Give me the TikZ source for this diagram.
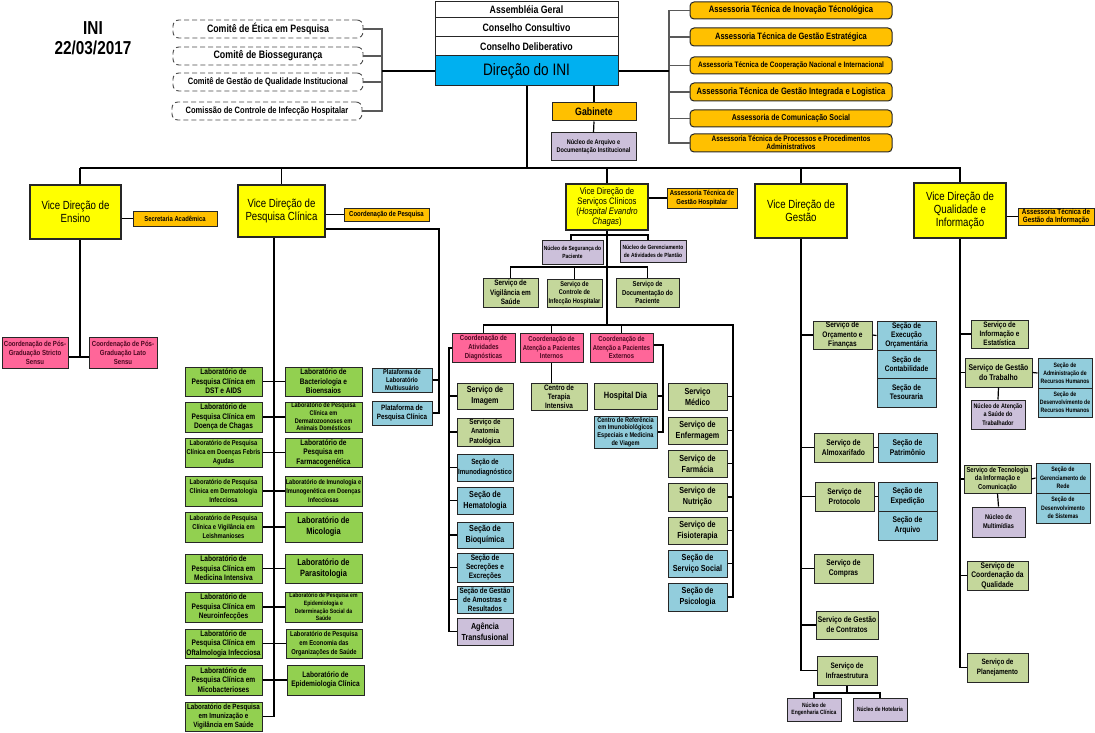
\documentclass[tikz,border=0pt]{standalone}
\usepackage{fontspec}
\setmainfont{Liberation Sans}[FakeStretch=0.82]
\definecolor{cyel}{HTML}{FFFF00}
\definecolor{corg}{HTML}{FFC000}
\definecolor{cblu}{HTML}{00B0F0}
\definecolor{cgrn}{HTML}{92D050}
\definecolor{coli}{HTML}{C4D79B}
\definecolor{clbl}{HTML}{92CDDC}
\definecolor{clav}{HTML}{CCC0DA}
\definecolor{cpnk}{HTML}{FF6699}
\definecolor{cptx}{HTML}{4A0820}
\definecolor{cbrd}{HTML}{262626}
\newcommand\Bx[7]{\node[bx,#6,minimum width={(#4)-(#2)},minimum height={(#5)-(#3)}] (#1) at ({((#2)+(#4))/2},{((#3)+(#5))/2}) {#7};}
\newcommand\FSz[2]{\pgfmathsetmacro\fszA{#1*1.07}\pgfmathsetmacro\fszB{#2*1.07}\fontsize{\fszA}{\fszB}\selectfont}
\tikzset{
  bx/.style={draw=cbrd,line width=1pt,inner sep=0.5pt,align=center},
  fs/.style 2 args={font=\bfseries\FSz{#1}{#2}},
  fr/.style 2 args={font=\FSz{#1}{#2}},
  vd/.style={fill=cyel,line width=1.6pt,draw=cbrd},
  dsh/.style={draw=black!70,dashed,dash pattern=on 5pt off 3pt,rounded corners=6pt,line width=0.9pt},
  ass/.style={fill=corg,rounded corners=4pt,line width=1pt},
  pk/.style={fill=cpnk,text=cptx},
  ln/.style={line width=1.2pt,black},
  bus/.style={line width=1.8pt,black},
  brk/.style={line width=1.2pt,black!65}
}
\begin{document}
\begin{tikzpicture}[x=1pt,y=-1pt]
\fill[white] (0,0) rectangle (1095,733);
\useasboundingbox (0,0) rectangle (1095,733);
% title
\node[fs={17.5}{19},align=center] (title) at (93,38) {INI\\22/03/2017};
% committees
\Bx{ce}{173}{20}{363}{38}{dsh,fs={10}{10}}{Comitê de Ética em Pesquisa}
\Bx{cb}{173}{47}{363}{65}{dsh,fs={10.1}{10}}{Comitê de Biossegurança}
\Bx{cq}{173}{73}{363}{91}{dsh,fs={8.6}{9}}{Comitê de Gestão de Qualidade Institucional}
\Bx{cc}{172}{102}{362}{120}{dsh,fs={8.6}{9}}{Comissão de Controle de Infecção Hospitalar}
% top boxes
\Bx{ag}{435}{2}{618}{18}{fill=white,fs={10}{11}}{Assembléia Geral}
\Bx{cco}{435}{18}{618}{37}{fill=white,fs={10}{11}}{Conselho Consultivo}
\Bx{cde}{435}{37}{618}{56}{fill=white,fs={10}{11}}{Conselho Deliberativo}
\Bx{dir}{435}{56}{618}{86}{fill=cblu,fr={15.5}{17}}{Direção do INI}
\Bx{gab}{552}{103}{636}{121}{fill=corg,fs={10}{11}}{Gabinete}
\Bx{nad}{551}{133}{636}{161}{fill=clav,fs={6.3}{7.8}}{Núcleo de Arquivo e\\Documentação Institucional}
% assessorias
\Bx{a1}{690}{2}{892}{19}{ass,fs={8.7}{9}}{Assessoria Técnica de Inovação Técnológica}
\Bx{a2}{690}{28}{892}{46}{ass,fs={8.6}{9}}{Assessoria Técnica de Gestão Estratégica}
\Bx{a3}{690}{57}{892}{74}{ass,fs={7.4}{8}}{Assessoria Técnica de Cooperação Nacional e Internacional}
\Bx{a4}{690}{83}{892}{101}{ass,fs={8.7}{9}}{Assessoria Técnica de Gestão Integrada e Logistica}
\Bx{a5}{690}{110}{892}{127}{ass,fs={8}{9}}{Assessoria de Comunicação Social}
\Bx{a6}{690}{134}{892}{152}{ass,fs={7.4}{7.6}}{Assessoria Técnica de Processos e Procedimentos\\Administrativos}
% brackets
\coordinate (brl) at (382,71);
\coordinate (brr) at (669,71);
\draw[brk] (ce.east) -- (ce.east -| brl) -- (cc.east -| brl) -- (cc.east);
\draw[brk] (cb.east) -- (cb.east -| brl);
\draw[brk] (cq.east) -- (cq.east -| brl);
\draw[ln] (brl) -- (dir.west);
\draw[brk] (a1.west) -- (a1.west -| brr) -- (a6.west -| brr) -- (a6.west);
\foreach \n in {a2,a3,a4,a5} \draw[brk] (\n.west) -- (\n.west -| brr);
\draw[ln] (dir.east) -- (brr);
\draw[ln] (gab.north) -- (gab.north |- dir.south);
\draw[ln] (gab.south) -- (nad.north);
% bus
\coordinate (bus) at (527,168);
\coordinate (bL) at (80,168);
\coordinate (bR) at (961,168);
\draw[bus] (bus |- dir.south) -- (bus);
\draw[bus] (bL) -- (bR);
% ===== Ensino
\Bx{vde}{30}{185}{121}{239}{vd,fr={11}{12.5}}{Vice Direção de\\Ensino}
\Bx{sa}{133}{211}{217}{226}{fill=corg,fs={6.7}{7}}{Secretaria Acadêmica}
\Bx{pg1}{2}{337}{68}{368}{pk,fs={6.9}{8.4}}{Coordenação de Pós-\\Graduação Stricto\\Sensu}
\Bx{pg2}{89}{337}{157}{368}{pk,fs={6.9}{8.4}}{Coordenação de Pós-\\Graduação Lato\\Sensu}
\coordinate (ej) at (80,357);
\draw[bus] (bL) -- (bL |- vde.north);
\draw[ln] (vde.east |- sa.west) -- (sa.west);
\draw[ln] (bL |- vde.south) -- (ej);
\draw[ln] (pg1.east |- ej) -- (pg2.west |- ej);
% ===== Pesquisa Clinica
\Bx{vdp}{238}{185}{325}{237}{vd,fr={11}{12.5}}{Vice Direção de\\Pesquisa Clínica}
\Bx{cp}{344}{208}{429}{221}{fill=corg,fs={6.8}{7}}{Coordenação de Pesquisa}
\Bx{pm}{372}{368}{432}{392}{fill=clbl,fs={6.5}{7.4}}{Plataforma de\\Laboratório\\Multiusuário}
\Bx{pc}{372}{401}{432}{425}{fill=clbl,fs={7.2}{8.5}}{Plataforma de\\Pesquisa Clínica}
\draw[bus] (vdp.north |- bL) -- (vdp.north);
\draw[ln] (vdp.east |- cp.west) -- (cp.west);
\coordinate (pl) at (439,229);
\draw[ln] (vdp.east |- pl) -- (pl) -- (pl |- pc.east) -- (pc.east);
\draw[ln] (pm.east) -- (pm.east -| pl);
\tikzset{lab/.style={fill=cgrn,fs={7.5}{8.9}},labs/.style={fill=cgrn,fs={6.6}{8.4}},labb/.style={fill=cgrn,fs={8.5}{10.5}}}
\Bx{l1}{185}{367}{262}{396}{lab}{Laboratório de\\Pesquisa Clínica em\\DST e AIDS}
\Bx{r1}{285}{367}{362}{396}{lab}{Laboratório de\\Bacteriologia e\\Bioensaios}
\Bx{l2}{185}{402}{262}{432}{lab}{Laboratório de\\Pesquisa Clínica em\\Doença de Chagas}
\Bx{r2}{285}{402}{362}{432}{fill=cgrn,fs={6.3}{7.2}}{Laboratório de Pesquisa\\Clínica em\\Dermatozoonoses em\\Animais Domésticos}
\Bx{l3}{185}{438}{262}{467}{labs}{Laboratório de Pesquisa\\Clínica em Doenças Febris\\Agudas}
\Bx{r3}{285}{438}{362}{467}{lab}{Laboratório de\\Pesquisa em\\Farmacogenética}
\Bx{l4}{185}{476}{262}{506}{labs}{Laboratório de Pesquisa\\Clínica em Dermatologia\\Infecciosa}
\Bx{r4}{285}{476}{362}{506}{fill=cgrn,fs={6.4}{8.4}}{Laboratório de Imunologia e\\Imunogenética em Doenças\\Infecciosas}
\Bx{l5}{185}{512}{262}{542}{labs}{Laboratório de Pesquisa\\Clínica e Vigilância em\\Leishmanioses}
\Bx{r5}{285}{512}{362}{542}{labb}{Laboratório de\\Micologia}
\Bx{l6}{185}{554}{262}{583}{lab}{Laboratório de\\Pesquisa Clínica em\\Medicina Intensiva}
\Bx{r6}{285}{554}{362}{583}{labb}{Laboratório de\\Parasitologia}
\Bx{l7}{185}{592}{262}{622}{lab}{Laboratório de\\Pesquisa Clínica em\\Neuroinfecções}
\Bx{r7}{285}{592}{362}{622}{fill=cgrn,fs={5.8}{7.1}}{Laboratório de Pesquisa em\\Epidemiologia e\\Determinação Social da\\Saúde}
\Bx{l8}{185}{629}{262}{658}{lab}{Laboratório de\\Pesquisa Clínica em\\Oftalmologia Infecciosa}
\Bx{r8}{286}{629}{362}{658}{labs}{Laboratório de Pesquisa\\em Economia das\\Organizações de Saúde}
\Bx{l9}{185}{665}{262}{695}{lab}{Laboratório de\\Pesquisa Clínica em\\Micobacterioses}
\Bx{r9}{287}{665}{364}{695}{lab}{Laboratório de\\Epidemiologia Clínica}
\Bx{l10}{185}{702}{262}{731}{fill=cgrn,fs={7.1}{8.4}}{Laboratório de Pesquisa\\em Imunização e\\Vigilância em Saúde}
\coordinate (pv) at (274,237);
\draw[ln] (pv |- vdp.south) -- (pv |- l10.east) -- (l10.east);
\foreach \i in {1,...,9} \draw[ln] (l\i.east) -- (r\i.west);
% ===== Servicos Clinicos
\Bx{vds}{566}{184}{648}{230}{vd,fr={8.8}{9.3}}{Vice Direção de\\Serviços Clínicos\\(\textit{Hospital Evandro}\\\textit{Chagas})}
\Bx{aph}{667}{188}{737}{208}{fill=corg,fs={6.8}{7.8}}{Assessoria Técnica de\\Gestão Hospitalar}
\draw[bus] (vds.north |- bL) -- (vds.north);
\draw[ln] (vds.east |- aph.west) -- (aph.west);
\Bx{ns}{542}{240}{603}{264}{fill=clav,fs={5.6}{7.2}}{Núcleo de Segurança do\\Paciente}
\Bx{ng}{620}{240}{686}{262}{fill=clav,fs={5.6}{7.2}}{Núcleo de Gerenciamento\\de Atividades de Plantão}
\coordinate (nb1) at (571,235);
\coordinate (nb2) at (648,235);
\draw[ln] (nb1 |- ns.north) -- (nb1) -- (nb2) -- (nb2 |- ng.north);
\Bx{sv1}{483}{278}{538}{307}{fill=coli,fs={7.3}{8.9}}{Serviço de\\Vigilância em\\Saúde}
\Bx{sv2}{547}{279}{602}{307}{fill=coli,fs={6.4}{7.8}}{Serviço de\\Controle de\\Infecção Hospitalar}
\Bx{sv3}{616}{278}{679}{307}{fill=coli,fs={6.7}{8}}{Serviço de\\Documentação do\\Paciente}
\coordinate (sb) at (607,267);
\draw[ln] (sv1.north) -- (sv1.north |- sb) -- (sv3.north |- sb) -- (sv3.north);
\draw[ln] (sv2.north) -- (sv2.north |- sb);
\Bx{c1}{452}{333}{515}{362}{pk,fs={6.85}{8.2}}{Coordenação de\\Atividades\\Diagnósticas}
\Bx{c2}{520}{333}{583}{362}{pk,fs={6.7}{8.2}}{Coordenação de\\Atenção a Pacientes\\Internos}
\Bx{c3}{590}{333}{653}{362}{pk,fs={6.7}{8.2}}{Coordenação de\\Atenção a Pacientes\\Externos}
\coordinate (cbus) at (607,325);
\coordinate (rv) at (733,325);
\draw[ln] (vds.south) -- (vds.south |- cbus);
% column 1
\Bx{simg}{457}{383}{513}{409}{fill=coli,fs={8.2}{10.5}}{Serviço de\\Imagem}
\Bx{sanp}{457}{418}{513}{446}{fill=coli,fs={7}{8.6}}{Serviço de\\Anatomia\\Patológica}
\Bx{simu}{457}{454}{513}{481}{fill=clbl,fs={7.1}{8.6}}{Seção de\\Imunodiagnóstico}
\Bx{shem}{457}{487}{513}{514}{fill=clbl,fs={8.2}{10.5}}{Seção de\\Hematologia}
\Bx{sbio}{457}{522}{513}{548}{fill=clbl,fs={8.2}{10.5}}{Seção de\\Bioquímica}
\Bx{ssec}{457}{553}{513}{582}{fill=clbl,fs={7.4}{8.4}}{Seção de\\Secreções e\\Excreções}
\Bx{sgam}{457}{586}{513}{613}{fill=clbl,fs={7.2}{8.2}}{Seção de Gestão\\de Amostras e\\Resultados}
\Bx{agt}{457}{618}{513}{645}{fill=clav,fs={8.2}{10}}{Agência\\Transfusional}
\coordinate (dv) at (449,348);
\draw[ln] (c1.west |- dv) -- (dv) -- (dv |- agt.west) -- (agt.west);
\foreach \n in {simg,sanp,simu,shem,sbio,ssec,sgam} \draw[ln] (\n.west) -- (\n.west -| dv);
% column 2
\Bx{cti}{531}{383}{587}{410}{fill=coli,fs={7.3}{8.3}}{Centro de\\Terapia\\Intensiva}
\draw[ln] (c2.south) -- (c2.south |- cti.north);
% column 3
\Bx{hd}{594}{383}{657}{409}{fill=coli,fs={8.5}{10}}{Hospital Dia}
\Bx{cre}{594}{416}{657}{448}{fill=clbl,fs={6.4}{7.2}}{Centro de Referência\\em Imunobiológicos\\Especiais e Medicina\\de Viagem}
\coordinate (ev) at (663,345);
\draw[ln] (c3.east |- ev) -- (ev) -- (ev |- cre.east) -- (cre.east);
\draw[ln] (hd.east) -- (hd.east -| ev);
% column 4
\Bx{smed}{668}{383}{727}{410}{fill=coli,fs={8.2}{10.5}}{Serviço\\Médico}
\Bx{senf}{668}{417}{727}{444}{fill=coli,fs={8.2}{10.5}}{Serviço de\\Enfermagem}
\Bx{sfar}{668}{450}{727}{477}{fill=coli,fs={8.2}{10.5}}{Serviço de\\Farmácia}
\Bx{snut}{668}{483}{727}{511}{fill=coli,fs={8.2}{10.5}}{Serviço de\\Nutrição}
\Bx{sfis}{668}{517}{727}{544}{fill=coli,fs={8.2}{10.5}}{Serviço de\\Fisioterapia}
\Bx{ssoc}{668}{550}{727}{577}{fill=clbl,fs={8.2}{10.5}}{Seção de\\Serviço Social}
\Bx{spsi}{668}{583}{727}{611}{fill=clbl,fs={8.2}{10.5}}{Seção de\\Psicologia}
\draw[ln] (c1.north) -- (c1.north |- cbus) -- (rv) -- (rv |- spsi.east) -- (spsi.east);
\draw[ln] (c2.north) -- (c2.north |- cbus);
\draw[ln] (c3.north) -- (c3.north |- cbus);
\foreach \n in {smed,senf,sfar,snut,sfis,ssoc} \draw[ln] (\n.east) -- (\n.east -| rv);
% ===== Gestao
\Bx{vdg}{755}{184}{847}{238}{vd,fr={11}{12.5}}{Vice Direção de\\Gestão}
\draw[bus] (vdg.north |- bL) -- (vdg.north);
\Bx{sorc}{813}{321}{872}{349}{fill=coli,fs={7.5}{8.6}}{Serviço de\\Orçamento e\\Finanças}
\Bx{sexe}{877}{321}{936}{350}{fill=clbl,fs={7.5}{8.6}}{Seção de\\Execução\\Orçamentária}
\Bx{scon}{877}{350}{936}{378}{fill=clbl,fs={7.5}{8.6}}{Seção de\\Contabilidade}
\Bx{stes}{877}{378}{936}{407}{fill=clbl,fs={7.5}{8.6}}{Seção de\\Tesouraria}
\Bx{salm}{814}{433}{873}{462}{fill=coli,fs={7.7}{10}}{Serviço de\\Almoxarifado}
\Bx{spat}{878}{433}{937}{462}{fill=clbl,fs={7.7}{10}}{Seção de\\Patrimônio}
\Bx{spro}{815}{482}{874}{511}{fill=coli,fs={7.7}{10}}{Serviço de\\Protocolo}
\Bx{sexp}{878}{482}{937}{511}{fill=clbl,fs={7.7}{10}}{Seção de\\Expedição}
\Bx{sarq}{878}{511}{937}{540}{fill=clbl,fs={7.7}{10}}{Seção de\\Arquivo}
\Bx{scom}{814}{554}{873}{583}{fill=coli,fs={7.7}{10}}{Serviço de\\Compras}
\Bx{sgct}{816}{611}{878}{639}{fill=coli,fs={7.6}{9.2}}{Serviço de Gestão\\de Contratos}
\Bx{sinf}{817}{656}{877}{685}{fill=coli,fs={7.4}{9.2}}{Serviço de\\Infraestrutura}
\Bx{nec}{787}{698}{841}{721}{fill=clav,fs={5.7}{6.8}}{Núcleo de\\Engenharia Clínica}
\Bx{nho}{853}{698}{907}{721}{fill=clav,fs={5.6}{6.8}}{Núcleo de Hotelaria}
\draw[ln] (vdg.south) -- (vdg.south |- sinf.west) -- (sinf.west);
\foreach \n in {sorc,salm,spro,scom,sgct} \draw[ln] (\n.west) -- (\n.west -| vdg.south);
\draw[ln] (sorc.east) -- (sexe.west);
\draw[ln] (salm.east) -- (spat.west);
\draw[ln] (spro.east) -- (sexp.west);
\coordinate (ib) at (847,693);
\draw[ln] (sinf.south) -- (sinf.south |- ib);
\draw[ln] (nec.north) -- (nec.north |- ib) -- (nho.north |- ib) -- (nho.north);
% ===== Qualidade
\Bx{vdq}{914}{183}{1006}{238}{vd,fr={11}{11.8}}{Vice Direção de\\Qualidade e\\Informação}
\draw[bus] (vdq.north |- bL) -- (vdq.north);
\Bx{agi}{1018}{208}{1094}{225}{fill=corg,fs={7.2}{7.2}}{Assessoria Técnica de\\Gestão da Informação}
\draw[ln] (vdq.east |- agi.west) -- (agi.west);
\Bx{sie}{971}{320}{1028}{348}{fill=coli,fs={7.3}{8.6}}{Serviço de\\Informação e\\Estatística}
\Bx{sgt}{965}{358}{1032}{387}{fill=coli,fs={7.8}{10}}{Serviço de Gestão\\do Trabalho}
\Bx{sarh}{1038}{358}{1092}{388}{fill=clbl,fs={5.9}{7.6}}{Seção de\\Administração de\\Recursos Humanos}
\Bx{sdrh}{1038}{388}{1092}{417}{fill=clbl,fs={5.9}{7.6}}{Seção de\\Desenvolvimento de\\Recursos Humanos}
\Bx{nast}{971}{400}{1025}{429}{fill=clav,fs={6.2}{7.8}}{Núcleo de Atenção\\a Saúde do\\Trabalhador}
\Bx{sti}{964}{465}{1031}{493}{fill=coli,fs={6.7}{8}}{Serviço de Tecnologia\\da Informação e\\Comunicação}
\Bx{sgr}{1036}{463}{1090}{493}{fill=clbl,fs={6}{7.8}}{Seção de\\Gerenciamento de\\Rede}
\Bx{sds}{1036}{493}{1090}{523}{fill=clbl,fs={6}{7.8}}{Seção de\\Desenvolvimento\\de Sistemas}
\Bx{nmm}{972}{507}{1025}{537}{fill=clav,fs={6.4}{8.4}}{Núcleo de\\Multimídias}
\Bx{scq}{967}{561}{1028}{590}{fill=coli,fs={7.6}{8.8}}{Serviço de\\Coordenação da\\Qualidade}
\Bx{spl}{967}{653}{1028}{682}{fill=coli,fs={7.2}{9.4}}{Serviço de\\Planejamento}
\draw[ln] (vdq.south) -- (vdq.south |- spl.west) -- (spl.west);
\foreach \n in {sie,sgt,sti,scq} \draw[ln] (\n.west) -- (\n.west -| vdq.south);
\draw[ln] (sgt.east) -- (sarh.west);
\draw[ln] (sgt.south) -- (nast.north);
\draw[ln] (sti.east) -- (sgr.west);
\draw[ln] (sti.south) -- (nmm.north);
\end{tikzpicture}
\end{document}
